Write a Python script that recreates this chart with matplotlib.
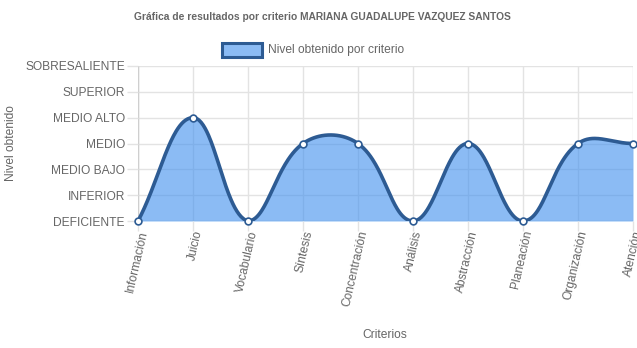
import numpy as np
import matplotlib
matplotlib.use("Agg")
import matplotlib.pyplot as plt
from matplotlib.patches import Rectangle

# Criteria and levels reached by the student
criterios = ["Información", "Juicio", "Vocabulario", "Síntesis", "Concentración",
             "Análisis", "Abstracción", "Planeación", "Organización", "Atención"]
niveles = [0, 4, 0, 3, 3, 0, 3, 0, 3, 3]
etiquetas_nivel = ["DEFICIENTE", "INFERIOR", "MEDIO BAJO", "MEDIO",
                   "MEDIO ALTO", "SUPERIOR", "SOBRESALIENTE"]

W, H, DPI = 637, 348, 100
PX = 72 / DPI  # points per pixel
plt.rcParams["font.family"] = ["Liberation Sans", "DejaVu Sans"]
TXT = "#666666"
GRID = "#e3e3e3"
FILL = (62 / 255, 143 / 255, 238 / 255, 0.6)
LINE = "#2d5b93"
FS = 12 * PX

fig = plt.figure(figsize=(W / DPI, H / DPI), dpi=DPI)
left, right, top, bottom = 138, 633, 66, 221
ax = fig.add_axes([left / W, (H - bottom) / H, (right - left) / W, (bottom - top) / H])

n = len(criterios)
x = np.arange(n, dtype=float)
y = np.array(niveles, dtype=float)
ymax = len(etiquetas_nivel) - 1
ax.set_xlim(0, n - 1)
ax.set_ylim(0, ymax)

# spline with tension 0.4 computed in pixel space (cardinal bezier)
sx = (right - left) / (n - 1)
sy = (bottom - top) / ymax
px, py = x * sx, y * sy
t = 0.4
cps = []
for i in range(n):
    p = np.array([px[i], py[i]])
    prev = np.array([px[max(i - 1, 0)], py[max(i - 1, 0)]])
    nxt = np.array([px[min(i + 1, n - 1)], py[min(i + 1, n - 1)]])
    d01 = np.hypot(*(p - prev))
    d12 = np.hypot(*(nxt - p))
    tot = d01 + d12
    s01 = d01 / tot if tot else 0
    s12 = d12 / tot if tot else 0
    c1 = p - t * s01 * (nxt - prev)
    c2 = p + t * s12 * (nxt - prev)
    c1[1] = np.clip(c1[1], 0, ymax * sy)
    c2[1] = np.clip(c2[1], 0, ymax * sy)
    cps.append((c1, c2))

xs, ys = [], []
u = np.linspace(0, 1, 60)
for i in range(n - 1):
    p0 = np.array([px[i], py[i]])
    p3 = np.array([px[i + 1], py[i + 1]])
    p1 = cps[i][1]
    p2 = cps[i + 1][0]
    b = ((1 - u) ** 3)[:, None] * p0 + (3 * (1 - u) ** 2 * u)[:, None] * p1 \
        + (3 * (1 - u) * u ** 2)[:, None] * p2 + (u ** 3)[:, None] * p3
    xs.extend(b[:, 0] / sx)
    ys.extend(b[:, 1] / sy)
xs, ys = np.array(xs), np.array(ys)

# grid
for i in range(n):
    ax.axvline(i, color=GRID, lw=1, zorder=0)
for j in range(ymax + 1):
    ax.axhline(j, color=GRID, lw=1, zorder=0)

ax.fill_between(xs, 0, ys, color=FILL, lw=0, zorder=1,
                label="Nivel obtenido por criterio")
ax.plot(xs, ys, color=LINE, lw=2.6, zorder=2, solid_capstyle="round")
ax.scatter(x, y, s=24, facecolor="white", edgecolor=LINE, linewidth=1.2,
           zorder=3, clip_on=False)

for s in ax.spines.values():
    s.set_visible(False)
ax.axvline(0, color="#cfcfcf", lw=1, zorder=0.5)
ax.axhline(0, color="#cfcfcf", lw=1, zorder=0.5)

ax.set_yticks(range(ymax + 1))
ax.set_yticklabels(etiquetas_nivel)
ax.set_xticks(x)
ax.set_xticklabels(criterios, rotation=77, ha="right", va="top",
                   rotation_mode="anchor")
ax.tick_params(axis="both", colors=GRID, length=8, width=1,
               labelcolor=TXT, labelsize=FS)
ax.tick_params(axis="y", pad=1.5)
ax.tick_params(axis="x", length=7, pad=-1)

fig.text(11 / W, 1 - 143 / H, "Nivel obtenido", color=TXT, fontsize=FS,
         rotation=90, ha="center", va="center")
fig.text(385 / W, 1 - 335 / H, "Criterios", color=TXT, fontsize=FS,
         ha="center", va="center")

fig.text(322 / W, 1 - 17 / H,
         "Gráfica de resultados por criterio MARIANA GUADALUPE VAZQUEZ SANTOS",
         color=TXT, fontsize=10.3 * PX, fontweight="bold", ha="center",
         va="center")

# legend box
fig.patches.append(Rectangle((222 / W, 1 - 57 / H), 40 / W, 14 / H,
                             transform=fig.transFigure, facecolor=FILL,
                             edgecolor=LINE, lw=2.2))
fig.text(268 / W, 1 - 49.5 / H, "Nivel obtenido por criterio", color=TXT,
         fontsize=FS, ha="left", va="center")

fig.savefig("out.png", dpi=DPI, facecolor="white")
